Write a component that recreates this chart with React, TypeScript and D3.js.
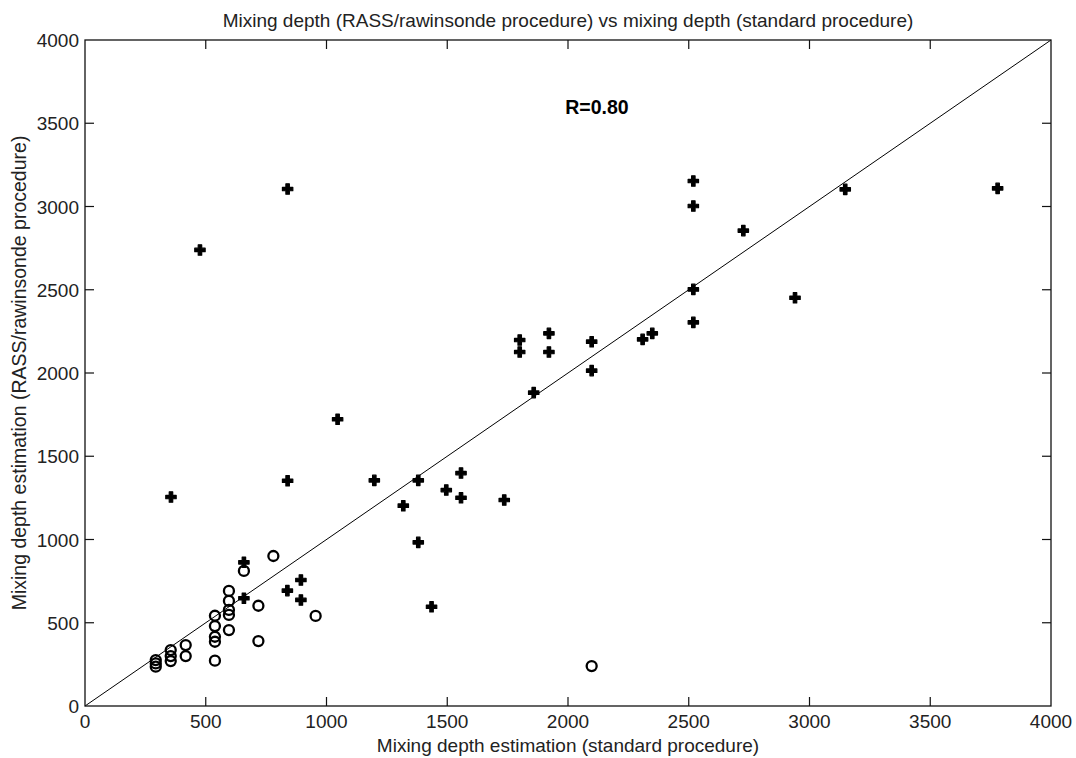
import React, { useRef, useEffect } from 'react';
import * as d3 from 'd3';

// axis ticks
const xTicks = [0, 500, 1000, 1500, 2000, 2500, 3000, 3500, 4000];
const yTicks = [0, 500, 1000, 1500, 2000, 2500, 3000, 3500, 4000];

// filled "+" markers (standard vs RASS/rawinsonde)
const crossX = [356, 476, 839, 1046, 1800, 1800, 1921, 1921, 2098, 2098, 2309, 2349, 1858, 1198, 1380, 1557, 1318, 1496, 1557, 1736, 1380, 1435, 2726, 2519, 2519, 2940, 3148, 3779, 2519, 2519, 839, 658, 894, 838, 894, 658];
const crossY = [1255, 2739, 3105, 1722, 2198, 2126, 2238, 2126, 2188, 2014, 2202, 2238, 1882, 1355, 1355, 1399, 1203, 1297, 1251, 1237, 983, 596, 2855, 2502, 2304, 2452, 3103, 3109, 3153, 3003, 1353, 863, 757, 693, 637, 647];

// hollow circle markers
const circleX = [658, 780, 718, 955, 718, 596, 596, 596, 596, 596, 538, 538, 538, 538, 538, 417, 417, 355, 355, 355, 293, 293, 293, 2098];
const circleY = [811, 901, 602, 541, 390, 691, 631, 577, 547, 456, 542, 480, 416, 386, 272, 366, 300, 336, 300, 270, 276, 256, 236, 240];

const W = 1076;
const H = 758;

const App = () => {
  const svgRef = useRef(null);

  useEffect(() => {
    const svg = d3.select(svgRef.current);
    svg.selectAll("*").remove();

    const left = 85, right = 1051, top = 40, bottom = 706;
    const x = d3.scaleLinear().domain([0, 4000]).range([left, right]);
    const y = d3.scaleLinear().domain([0, 4000]).range([bottom, top]);
    const font = "'Liberation Sans', Arial, sans-serif";
    const tickLen = 9;

    svg.append("rect").attr("width", W).attr("height", H).attr("fill", "#fff");

    // 1:1 line
    svg.append("line")
      .attr("x1", x(0)).attr("y1", y(0))
      .attr("x2", x(4000)).attr("y2", y(4000))
      .attr("stroke", "#000").attr("stroke-width", 1);

    // box
    svg.append("rect")
      .attr("x", left).attr("y", top)
      .attr("width", right - left).attr("height", bottom - top)
      .attr("fill", "none").attr("stroke", "#111").attr("stroke-width", 1.3);

    // ticks on all four sides, pointing inward
    const tk = svg.append("g").attr("stroke", "#111").attr("stroke-width", 1.2);
    xTicks.slice(1, -1).forEach(t => {
      tk.append("line").attr("x1", x(t)).attr("x2", x(t)).attr("y1", bottom).attr("y2", bottom - tickLen);
      tk.append("line").attr("x1", x(t)).attr("x2", x(t)).attr("y1", top).attr("y2", top + tickLen);
    });
    yTicks.slice(1, -1).forEach(t => {
      tk.append("line").attr("y1", y(t)).attr("y2", y(t)).attr("x1", left).attr("x2", left + tickLen);
      tk.append("line").attr("y1", y(t)).attr("y2", y(t)).attr("x1", right).attr("x2", right - tickLen);
    });

    // tick labels
    svg.selectAll(".xt").data(xTicks).enter().append("text")
      .attr("x", d => x(d)).attr("y", bottom + 22)
      .attr("text-anchor", "middle")
      .style("font-family", font).style("font-size", "19px").style("fill", "#222")
      .text(d => d);
    svg.selectAll(".yt").data(yTicks).enter().append("text")
      .attr("x", left - 6).attr("y", d => y(d) + 7)
      .attr("text-anchor", "end")
      .style("font-family", font).style("font-size", "19px").style("fill", "#222")
      .text(d => d);

    // crosses
    const crossPath = d3.symbol(d3.symbolCross, 60)();
    svg.selectAll(".cross").data(crossX.map((v, i) => [v, crossY[i]])).enter().append("path")
      .attr("d", crossPath)
      .attr("transform", d => `translate(${x(d[0])},${y(d[1])})`)
      .attr("fill", "#000").attr("stroke", "#000").attr("stroke-width", 1.2).attr("stroke-linejoin", "round");

    // circles
    svg.selectAll(".circ").data(circleX.map((v, i) => [v, circleY[i]])).enter().append("circle")
      .attr("cx", d => x(d[0])).attr("cy", d => y(d[1])).attr("r", 5)
      .attr("fill", "none").attr("stroke", "#000").attr("stroke-width", 2.3);

    // R label
    svg.append("text")
      .attr("x", 597).attr("y", 114).attr("text-anchor", "middle")
      .style("font-family", font).style("font-size", "19.5px").style("font-weight", "bold")
      .text("R=0.80");

    // title
    svg.append("text")
      .attr("x", 568).attr("y", 27).attr("text-anchor", "middle")
      .style("font-family", font).style("font-size", "19px").style("fill", "#222")
      .text("Mixing depth (RASS/rawinsonde procedure) vs mixing depth (standard procedure)");

    // axis labels
    svg.append("text")
      .attr("x", 568).attr("y", 752).attr("text-anchor", "middle")
      .style("font-family", font).style("font-size", "19px").style("fill", "#222")
      .text("Mixing depth estimation (standard procedure)");
    svg.append("text")
      .attr("transform", `translate(26,${(top + bottom) / 2}) rotate(-90)`)
      .attr("text-anchor", "middle")
      .style("font-family", font).style("font-size", "19.5px").style("fill", "#222")
      .text("Mixing depth estimation (RASS/rawinsonde procedure)");
  }, []);

  return (
    <svg
      ref={svgRef}
      width={W}
      height={H}
      style={{ position: 'absolute', left: 0, top: 0, display: 'block' }}
    />
  );
};

export default App;
